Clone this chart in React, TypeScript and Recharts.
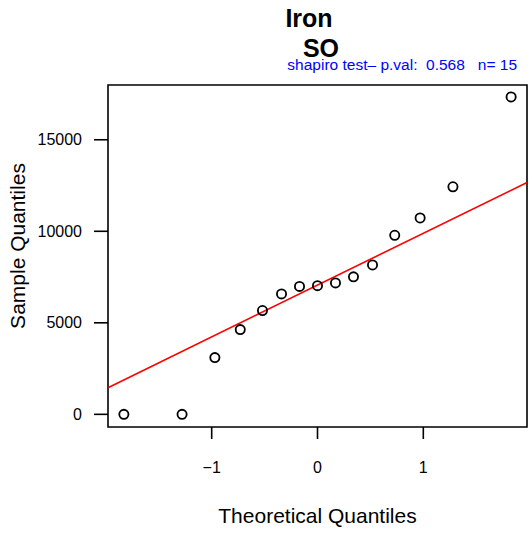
import React from 'react';
import { ScatterChart, Scatter, XAxis, YAxis, ReferenceLine, ReferenceArea } from 'recharts';

const theoretical = [-1.83, -1.28, -0.97, -0.73, -0.52, -0.34, -0.17, 0, 0.17, 0.34, 0.52, 0.73, 0.97, 1.28, 1.83];
const sample = [0, 0, 3100, 4630, 5670, 6580, 6990, 7030, 7180, 7510, 8160, 9780, 10730, 12430, 17340];
const xTicks = [-1, 0, 1];
const yTicks = [0, 5000, 10000, 15000];
const xDomain = [-1.98, 1.98];
const yDomain = [-692, 17992];

const points = theoretical.map((x, i) => ({ x, y: sample[i] }));

// qqline: through the first and third quartiles
const quantile7 = (arr: number[], p: number) => {
    const s = [...arr].sort((a, b) => a - b);
    const h = (s.length - 1) * p;
    const lo = Math.floor(h);
    return s[lo] + (h - lo) * (s[Math.min(lo + 1, s.length - 1)] - s[lo]);
};
const zq = 0.6744898;
const q1 = quantile7(sample, 0.25);
const q3 = quantile7(sample, 0.75);
const slope = (q3 - q1) / (2 * zq);
const intercept = q1 + zq * slope;

const FONT = '"Liberation Sans", Arial, Helvetica, sans-serif';

const Ring = (props: any) => (
    <circle cx={props.cx} cy={props.cy} r={4.6} fill="none" stroke="#000" strokeWidth={1.8} />
);

const fmt = (v: number) => String(v).replace('-', '\u2212');

export default function App() {
    return (
        <div style={{ position: 'absolute', left: 0, top: 0, width: 531, height: 539, background: '#fff' }}>
            <ScatterChart width={531} height={539} margin={{ top: 85, right: 4, bottom: 0, left: 0 }}>
                <XAxis
                    type="number"
                    dataKey="x"
                    domain={xDomain}
                    ticks={xTicks}
                    height={112}
                    axisLine={false}
                    tickSize={12}
                    tickMargin={23}
                    tickLine={{ stroke: '#000', strokeWidth: 1.6 }}
                    tick={{ fontSize: 16, fill: '#000', fontFamily: FONT }}
                    tickFormatter={fmt}
                />
                <YAxis
                    type="number"
                    dataKey="y"
                    domain={yDomain}
                    ticks={yTicks}
                    width={108}
                    axisLine={false}
                    tickSize={14}
                    tickMargin={12}
                    tickLine={{ stroke: '#000', strokeWidth: 1.6 }}
                    tick={{ fontSize: 16, fill: '#000', fontFamily: FONT }}
                />
                <ReferenceArea
                    x1={xDomain[0]}
                    x2={xDomain[1]}
                    y1={yDomain[0]}
                    y2={yDomain[1]}
                    fill="none"
                    fillOpacity={0}
                    stroke="#000"
                    strokeWidth={1.6}
                />
                <ReferenceLine
                    segment={[
                        { x: xDomain[0], y: intercept + slope * xDomain[0] },
                        { x: xDomain[1], y: intercept + slope * xDomain[1] },
                    ]}
                    stroke="#ff0000"
                    strokeWidth={1.6}
                />
                <Scatter data={points} shape={Ring} isAnimationActive={false} />
            </ScatterChart>
            <svg
                width={531}
                height={539}
                style={{ position: 'absolute', left: 0, top: 0, pointerEvents: 'none' }}
                fontFamily={FONT}
            >
                <text x={309} y={27} textAnchor="middle" fontSize={25} fontWeight="bold" fill="#000">Iron</text>
                <text x={321} y={57} textAnchor="middle" fontSize={25} fontWeight="bold" fill="#000">SO</text>
                <text x={517} y={70} textAnchor="end" fontSize={15.5} fill="#0000ff" style={{ whiteSpace: 'pre' }}>
                    {'shapiro test\u2013 p.val:  0.568   n= 15'}
                </text>
                <text x={317.5} y={523} textAnchor="middle" fontSize={21} fill="#000">Theoretical Quantiles</text>
                <text
                    x={0}
                    y={0}
                    transform="translate(25,246) rotate(-90)"
                    textAnchor="middle"
                    fontSize={21}
                    fill="#000"
                >
                    Sample Quantiles
                </text>
            </svg>
        </div>
    );
}
